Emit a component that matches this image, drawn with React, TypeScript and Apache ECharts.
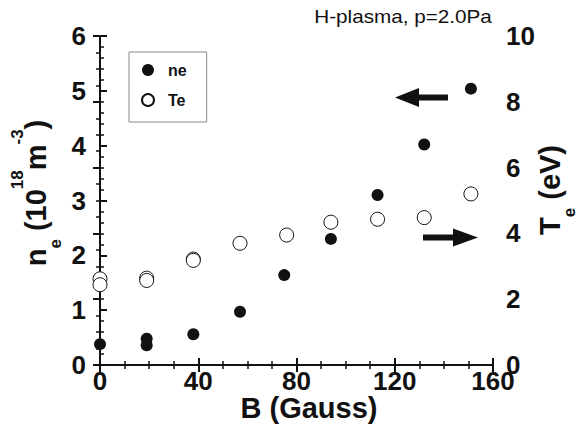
import React, { useEffect, useRef } from "react";
import * as echarts from "echarts";

const seriesNames = ["ne", "Te"];
const neB = [0, 19, 19, 38, 57, 75, 94, 113, 132, 151];
const neVal = [0.38, 0.48, 0.36, 0.56, 0.97, 1.64, 2.3, 3.1, 4.02, 5.04];
const teB = [0, 0, 19, 19, 38, 38, 57, 76, 94, 113, 132, 151];
const teVal = [2.62, 2.44, 2.64, 2.57, 3.22, 3.18, 3.7, 3.95, 4.34, 4.43, 4.48, 5.2];
const titleText = "H-plasma, p=2.0Pa";
const xName = "B (Gauss)";

const FONT = "'Liberation Sans', Arial, Helvetica, sans-serif";
const INK = "#111";

const axisCommon = {
  type: "value" as const,
  axisLine: { show: true, lineStyle: { color: INK, width: 2 } },
  axisTick: { show: true, inside: true, length: 7, lineStyle: { color: INK, width: 2 } },
  minorTick: { show: true, length: 4, lineStyle: { color: INK, width: 1.5 } },
  splitLine: { show: false },
  axisLabel: { fontSize: 26, fontWeight: "bold" as const, fontFamily: FONT, color: INK },
};

export default function App() {
  const ref = useRef<HTMLDivElement>(null);
  useEffect(() => {
    document.body.style.margin = "0";
    if (!ref.current) return;
    const chart = echarts.init(ref.current, undefined, { renderer: "svg" });
    chart.setOption({
      animation: false,
      backgroundColor: "#fff",
      grid: { left: 100, right: 92, top: 36, bottom: 61 },
      legend: {
        data: seriesNames,
        orient: "vertical",
        left: 129,
        top: 52,
        padding: [10, 20, 14, 12],
        itemWidth: 14,
        itemHeight: 12,
        itemGap: 14,
        borderColor: "#888",
        borderWidth: 1,
        icon: "circle",
        textStyle: {
          fontSize: 16,
          fontWeight: "bold",
          fontFamily: FONT,
          color: INK,
          lineHeight: 16,
          padding: [0, 0, 0, 8],
        },
      },
      xAxis: [
        {
          ...axisCommon,
          min: 0,
          max: 160,
          interval: 40,
          position: "bottom",
          minorTick: { ...axisCommon.minorTick, splitNumber: 4 },
          axisLabel: { ...axisCommon.axisLabel, margin: 3 },
        },
        {
          ...axisCommon,
          min: 0,
          max: 160,
          interval: 40,
          position: "top",
          minorTick: { ...axisCommon.minorTick, splitNumber: 4 },
          axisLabel: { show: false },
        },
      ],
      yAxis: [
        {
          ...axisCommon,
          min: 0,
          max: 6,
          interval: 1,
          position: "left",
          minorTick: { ...axisCommon.minorTick, splitNumber: 5 },
          axisLabel: { ...axisCommon.axisLabel, margin: 14 },
        },
        {
          ...axisCommon,
          min: 0,
          max: 10,
          interval: 2,
          position: "right",
          minorTick: { ...axisCommon.minorTick, splitNumber: 4 },
          axisLabel: { ...axisCommon.axisLabel, margin: 13 },
        },
      ],
      series: [
        {
          name: seriesNames[0],
          type: "scatter",
          xAxisIndex: 0,
          yAxisIndex: 0,
          symbol: "circle",
          symbolSize: 12,
          itemStyle: { color: INK, opacity: 1 },
          data: neB.map((b, i) => [b, neVal[i]]),
          z: 3,
        },
        {
          name: seriesNames[1],
          type: "scatter",
          xAxisIndex: 0,
          yAxisIndex: 1,
          symbol: "circle",
          symbolSize: 14,
          itemStyle: { color: "#fff", borderColor: INK, borderWidth: 1, opacity: 1 },
          data: teB.map((b, i) => [b, teVal[i]]),
          z: 2,
        },
      ],
      graphic: [
        {
          type: "text",
          x: 403,
          y: 16.5,
          scaleX: 1.15,
          style: {
            text: titleText,
            fontSize: 18,
            fontFamily: FONT,
            fill: INK,
            align: "center",
            verticalAlign: "middle",
          },
        },
        {
          type: "text",
          x: 309,
          y: 408,
          style: {
            text: xName,
            fontSize: 29,
            fontWeight: "bold",
            fontFamily: FONT,
            fill: INK,
            align: "center",
            verticalAlign: "middle",
          },
        },
        {
          type: "text",
          x: 36,
          y: 193,
          rotation: Math.PI / 2,
          style: {
            text: "{b|n}{sub|e}{b| (10}{sup|18}{b|m}{sup|-3}{b|)}",
            align: "center",
            verticalAlign: "middle",
            fill: INK,
            rich: {
              b: { fontSize: 29, fontWeight: "bold", fontFamily: FONT, fill: INK, lineHeight: 55, verticalAlign: "middle" },
              sub: { fontSize: 17, fontWeight: "bold", fontFamily: FONT, fill: INK, lineHeight: 17, verticalAlign: "bottom" },
              sup: { fontSize: 17, fontWeight: "bold", fontFamily: FONT, fill: INK, lineHeight: 25, verticalAlign: "top" },
            },
          },
        },
        {
          type: "text",
          x: 550,
          y: 190,
          rotation: Math.PI / 2,
          style: {
            text: "{b|T}{sub|e}{b| (eV)}",
            align: "center",
            verticalAlign: "middle",
            fill: INK,
            rich: {
              b: { fontSize: 29, fontWeight: "bold", fontFamily: FONT, fill: INK, lineHeight: 55, verticalAlign: "middle" },
              sub: { fontSize: 17, fontWeight: "bold", fontFamily: FONT, fill: INK, lineHeight: 17, verticalAlign: "bottom" },
            },
          },
        },
        {
          type: "polygon",
          shape: {
            points: [[395, 97.5], [419, 88], [419, 94.5], [448, 94.5], [448, 100.5], [419, 100.5], [419, 107]],
          },
          style: { fill: INK },
        },
        {
          type: "polygon",
          shape: {
            points: [[478, 237.5], [453, 228.5], [453, 234.5], [423, 234.5], [423, 240.5], [453, 240.5], [453, 246.5]],
          },
          style: { fill: INK },
        },
      ],
    });
    return () => chart.dispose();
  }, []);
  return <div ref={ref} style={{ width: 585, height: 426 }} />;
}
